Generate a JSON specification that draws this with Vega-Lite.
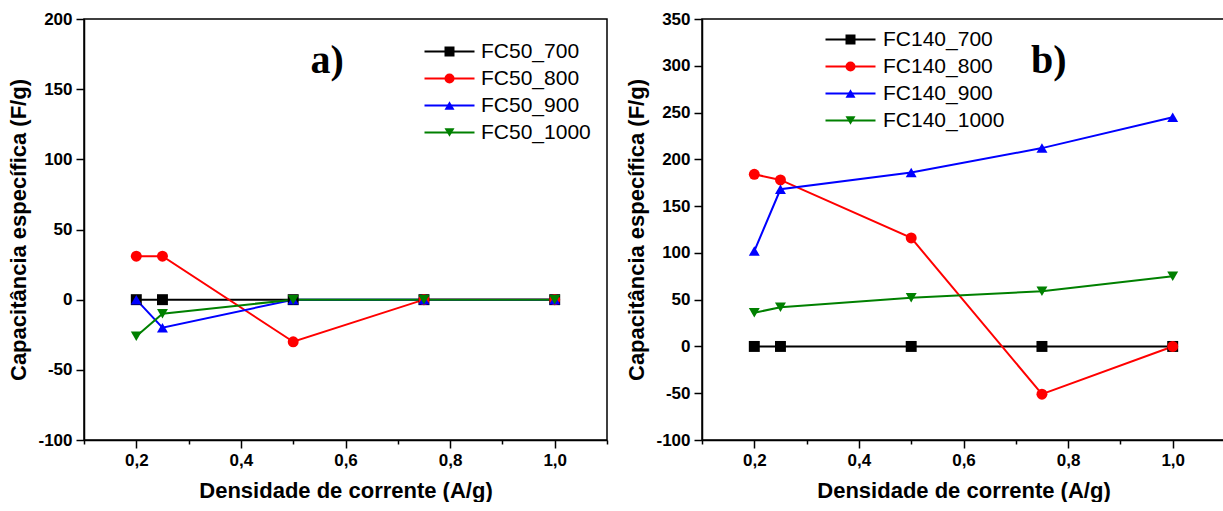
{
  "$schema": "https://vega.github.io/schema/vega-lite/v6.json",
  "background": "white",
  "padding": {"left": 7, "top": 9, "right": 0, "bottom": 0},
  "config": {
    "view": {"stroke": "black", "strokeWidth": 1.5},
    "axis": {
      "domainColor": "black", "domainWidth": 1.5, "tickColor": "black", "tickWidth": 1.5,
      "labelFont": "Liberation Sans", "labelFontWeight": "bold", "labelFontSize": 17, "labelColor": "black",
      "titleFont": "Liberation Sans", "titleFontWeight": "bold", "titleFontSize": 22, "titleColor": "black",
      "grid": false, "labelPadding": 4
    },
    "legend": {
      "labelFont": "Liberation Sans", "labelFontSize": 21, "labelColor": "black", "padding": 0
    }
  },
  "datasets": {
    "a": [
      {"series": "FC50_700", "x": 0.2, "y": 0},
      {"series": "FC50_700", "x": 0.25, "y": 0},
      {"series": "FC50_700", "x": 0.5, "y": 0},
      {"series": "FC50_700", "x": 0.75, "y": 0},
      {"series": "FC50_700", "x": 1.0, "y": 0},
      {"series": "FC50_800", "x": 0.2, "y": 31},
      {"series": "FC50_800", "x": 0.25, "y": 31},
      {"series": "FC50_800", "x": 0.5, "y": -30},
      {"series": "FC50_800", "x": 0.75, "y": 0},
      {"series": "FC50_800", "x": 1.0, "y": 0},
      {"series": "FC50_900", "x": 0.2, "y": 0},
      {"series": "FC50_900", "x": 0.25, "y": -20},
      {"series": "FC50_900", "x": 0.5, "y": 0},
      {"series": "FC50_900", "x": 0.75, "y": 0},
      {"series": "FC50_900", "x": 1.0, "y": 0},
      {"series": "FC50_1000", "x": 0.2, "y": -26},
      {"series": "FC50_1000", "x": 0.25, "y": -10},
      {"series": "FC50_1000", "x": 0.5, "y": 0},
      {"series": "FC50_1000", "x": 0.75, "y": 0},
      {"series": "FC50_1000", "x": 1.0, "y": 0}
    ],
    "b": [
      {"series": "FC140_700", "x": 0.2, "y": 0},
      {"series": "FC140_700", "x": 0.25, "y": 0},
      {"series": "FC140_700", "x": 0.5, "y": 0},
      {"series": "FC140_700", "x": 0.75, "y": 0},
      {"series": "FC140_700", "x": 1.0, "y": 0},
      {"series": "FC140_800", "x": 0.2, "y": 184},
      {"series": "FC140_800", "x": 0.25, "y": 178},
      {"series": "FC140_800", "x": 0.5, "y": 116},
      {"series": "FC140_800", "x": 0.75, "y": -51},
      {"series": "FC140_800", "x": 1.0, "y": 0},
      {"series": "FC140_900", "x": 0.2, "y": 102},
      {"series": "FC140_900", "x": 0.25, "y": 168},
      {"series": "FC140_900", "x": 0.5, "y": 186},
      {"series": "FC140_900", "x": 0.75, "y": 212},
      {"series": "FC140_900", "x": 1.0, "y": 245},
      {"series": "FC140_1000", "x": 0.2, "y": 36},
      {"series": "FC140_1000", "x": 0.25, "y": 42},
      {"series": "FC140_1000", "x": 0.5, "y": 52},
      {"series": "FC140_1000", "x": 0.75, "y": 59},
      {"series": "FC140_1000", "x": 1.0, "y": 75}
    ]
  },
  "spacing": 16,
  "resolve": {"scale": {"stroke": "independent", "fill": "independent", "shape": "independent"}, "legend": {"stroke": "independent", "fill": "independent", "shape": "independent"}},
  "hconcat": [
    {
      "width": 523, "height": 421,
      "data": {"name": "a"},
      "layer": [
        {
          "mark": {"type": "line", "strokeWidth": 2},
          "encoding": {
            "x": {"field": "x", "type": "quantitative", "title": "Densidade de corrente (A/g)",
              "scale": {"domain": [0.1, 1.1], "nice": false, "zero": false},
              "axis": {"values": [0.1,0.2,0.3,0.4,0.5,0.6,0.7,0.8,0.9,1.0,1.1],
                "labelExpr": "round(datum.value*10) % 2 == 0 ? replace(format(datum.value, '.1f'), '.', ',') : ''",
                "tickSize": {"condition": {"test": "round(datum.value*10) % 2 == 0", "value": 8}, "value": 4},
                "titlePadding": 12}},
            "y": {"field": "y", "type": "quantitative", "title": "Capacitância específica (F/g)",
              "scale": {"domain": [-100, 200], "nice": false},
              "axis": {"values": [-100,-75,-50,-25,0,25,50,75,100,125,150,175,200],
                "labelExpr": "datum.value % 50 == 0 ? replace(datum.label, '\u2212', '-') : ''",
                "tickSize": {"condition": {"test": "datum.value % 50 == 0", "value": 8}, "value": 4},
                "titlePadding": 7}},
            "stroke": {"field": "series", "type": "nominal",
              "scale": {"domain": ["FC50_700","FC50_800","FC50_900","FC50_1000"], "range": ["#000000","#ff0000","#0000ff","#008000"]},
              "legend": {"orient": "none", "legendX": 355, "legendY": 22, "symbolType": "M-5,0L5,0", "symbolSize": 100, "symbolStrokeWidth": 2, "labelOffset": 21, "rowPadding": 5, "title": null}}
          }
        },
        {
          "mark": {"type": "point", "filled": true, "size": 120, "opacity": 1},
          "encoding": {
            "x": {"field": "x", "type": "quantitative"},
            "y": {"field": "y", "type": "quantitative"},
            "fill": {"field": "series", "type": "nominal",
              "scale": {"domain": ["FC50_700","FC50_800","FC50_900","FC50_1000","-"], "range": ["#000000","#ff0000","#0000ff","#008000","#ffffff"]},
              "legend": {"orient": "none", "legendX": 355, "legendY": 22, "values": ["FC50_700","FC50_800","FC50_900","FC50_1000"], "symbolSize": 100, "labelOpacity": 0, "labelOffset": 21, "rowPadding": 5, "title": null, "symbolStrokeWidth": 0}},
            "shape": {"field": "series", "type": "nominal",
              "scale": {"domain": ["FC50_700","FC50_800","FC50_900","FC50_1000","-"], "range": ["square","circle","triangle-up","triangle-down","circle"]},
              "legend": {"orient": "none", "legendX": 355, "legendY": 22, "values": ["FC50_700","FC50_800","FC50_900","FC50_1000"], "symbolSize": 100, "labelOpacity": 0, "labelOffset": 21, "rowPadding": 5, "title": null, "symbolStrokeWidth": 0}}
          }
        },
        {
          "data": {"values": [{"label": "a)"}]},
          "mark": {"type": "text", "font": "Liberation Serif", "fontWeight": "bold", "fontSize": 40, "color": "black"},
          "encoding": {"x": {"datum": 0.565, "type": "quantitative"}, "y": {"datum": 170, "type": "quantitative"}, "text": {"field": "label"}}
        }
      ]
    },
    {
      "width": 523, "height": 421,
      "data": {"name": "b"},
      "layer": [
        {
          "mark": {"type": "line", "strokeWidth": 2},
          "encoding": {
            "x": {"field": "x", "type": "quantitative", "title": "Densidade de corrente (A/g)",
              "scale": {"domain": [0.1, 1.1], "nice": false, "zero": false},
              "axis": {"values": [0.1,0.2,0.3,0.4,0.5,0.6,0.7,0.8,0.9,1.0,1.1],
                "labelExpr": "round(datum.value*10) % 2 == 0 ? replace(format(datum.value, '.1f'), '.', ',') : ''",
                "tickSize": {"condition": {"test": "round(datum.value*10) % 2 == 0", "value": 8}, "value": 4},
                "titlePadding": 12}},
            "y": {"field": "y", "type": "quantitative", "title": "Capacitância específica (F/g)",
              "scale": {"domain": [-100, 350], "nice": false},
              "axis": {"values": [-100,-75,-50,-25,0,25,50,75,100,125,150,175,200,225,250,275,300,325,350],
                "labelExpr": "datum.value % 50 == 0 ? replace(datum.label, '\u2212', '-') : ''",
                "tickSize": {"condition": {"test": "datum.value % 50 == 0", "value": 8}, "value": 4},
                "titlePadding": 7}},
            "stroke": {"field": "series", "type": "nominal",
              "scale": {"domain": ["FC140_700","FC140_800","FC140_900","FC140_1000"], "range": ["#000000","#ff0000","#0000ff","#008000"]},
              "legend": {"orient": "none", "legendX": 138, "legendY": 10, "symbolType": "M-5,0L5,0", "symbolSize": 100, "symbolStrokeWidth": 2, "labelOffset": 22, "rowPadding": 5, "title": null}}
          }
        },
        {
          "mark": {"type": "point", "filled": true, "size": 120, "opacity": 1},
          "encoding": {
            "x": {"field": "x", "type": "quantitative"},
            "y": {"field": "y", "type": "quantitative"},
            "fill": {"field": "series", "type": "nominal",
              "scale": {"domain": ["FC140_700","FC140_800","FC140_900","FC140_1000","-"], "range": ["#000000","#ff0000","#0000ff","#008000","#ffffff"]},
              "legend": {"orient": "none", "legendX": 138, "legendY": 10, "values": ["FC140_700","FC140_800","FC140_900","FC140_1000"], "symbolSize": 100, "labelOpacity": 0, "labelOffset": 22, "rowPadding": 5, "title": null, "symbolStrokeWidth": 0}},
            "shape": {"field": "series", "type": "nominal",
              "scale": {"domain": ["FC140_700","FC140_800","FC140_900","FC140_1000","-"], "range": ["square","circle","triangle-up","triangle-down","circle"]},
              "legend": {"orient": "none", "legendX": 138, "legendY": 10, "values": ["FC140_700","FC140_800","FC140_900","FC140_1000"], "symbolSize": 100, "labelOpacity": 0, "labelOffset": 22, "rowPadding": 5, "title": null, "symbolStrokeWidth": 0}}
          }
        },
        {
          "data": {"values": [{"label": "b)"}]},
          "mark": {"type": "text", "font": "Liberation Serif", "fontWeight": "bold", "fontSize": 40, "color": "black"},
          "encoding": {"x": {"datum": 0.763, "type": "quantitative"}, "y": {"datum": 305, "type": "quantitative"}, "text": {"field": "label"}}
        }
      ]
    }
  ]
}
